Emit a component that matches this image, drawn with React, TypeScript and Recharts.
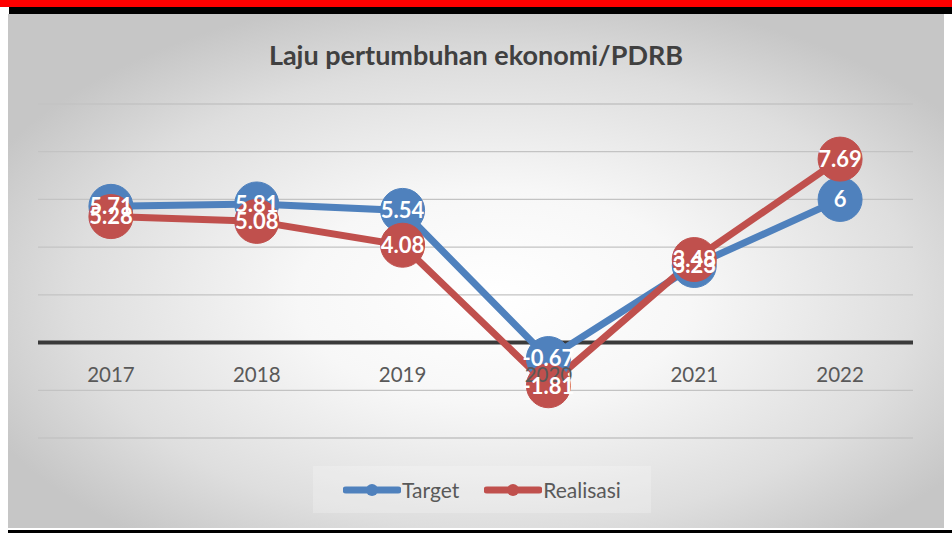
import React from 'react';
import {
  LineChart,
  Line,
  XAxis,
  YAxis,
  CartesianGrid,
  ReferenceLine,
  LabelList,
} from 'recharts';

const years = ['2017', '2018', '2019', '2020', '2021', '2022'];
const target = [5.71, 5.81, 5.54, -0.67, 3.23, 6];
const realisasi = [5.28, 5.08, 4.08, -1.81, 3.48, 7.69];
const yTicks = [-4, -2, 0, 2, 4, 6, 8, 10];

const data = years.map((year, i) => ({ year, target: target[i], realisasi: realisasi[i] }));

const BLUE = '#4f81bd';
const RED = '#c0504d';
const FONT = 'Lato, "Open Sans", sans-serif';

const W = 952;
const H = 533;
const M = { top: 104, right: 39, bottom: 94, left: 38 };
const plotH = 334;
const zeroY = M.top + (10 / 14) * plotH;

const YearTick = (props: any) => {
  const { x, payload } = props;
  return (
    <text x={x} y={zeroY + 39} textAnchor="middle" fill="#595959" fontSize={20.5} fontFamily={FONT}>
      {payload.value}
    </text>
  );
};

const LegendBox = () => {
  const items = [
    { name: 'Target', color: BLUE },
    { name: 'Realisasi', color: RED },
  ];
  return (
    <div
      style={{
        position: 'absolute',
        left: 313,
        top: 466,
        width: 338,
        height: 47,
        background: 'rgba(255,255,255,0.22)',
        display: 'flex',
        justifyContent: 'center',
        alignItems: 'center',
        gap: 25,
        fontFamily: FONT,
        fontSize: 21,
        color: '#595959',
      }}
    >
      {items.map((it) => (
        <div key={it.name} style={{ display: 'flex', alignItems: 'center' }}>
          <svg width={58} height={16}>
            <line x1={3} y1={8} x2={55} y2={8} stroke={it.color} strokeWidth={7} strokeLinecap="round" />
            <circle cx={29} cy={8} r={6} fill={it.color} />
          </svg>
          <span style={{ marginLeft: 1 }}>{it.name}</span>
        </div>
      ))}
    </div>
  );
};

export default function App() {
  return (
    <div style={{ position: 'absolute', left: 0, top: 0, width: W, height: H, background: '#fff', overflow: 'hidden' }}>
      <div style={{ position: 'absolute', left: 0, top: 0, width: W, height: 7, background: '#ff0000' }} />
      <div style={{ position: 'absolute', left: 9, top: 7, width: W - 9, height: 7, background: '#000' }} />
      <div
        style={{
          position: 'absolute',
          left: 8,
          top: 14,
          width: 936,
          height: 514,
          background: 'radial-gradient(ellipse 60% 60% at 52% 55%, #ffffff 0%, #f7f7f7 35%, #dedede 75%, #c6c6c6 100%)',
        }}
      />
      <div style={{ position: 'absolute', left: 8, top: 530, width: W - 8, height: 3, background: '#000' }} />
      <LegendBox />
      <div
        style={{
          position: 'absolute',
          left: 0,
          top: 38,
          width: W,
          textAlign: 'center',
          fontFamily: FONT,
          fontWeight: 'bold',
          fontSize: 27,
          color: '#404040',
        }}
      >
        Laju pertumbuhan ekonomi/PDRB
      </div>
      <div style={{ position: 'absolute', left: 0, top: 0 }}>
        <LineChart width={W} height={H} data={data} margin={M}>
          <CartesianGrid vertical={false} stroke="#c3c3c3" strokeWidth={1.3} />
          <XAxis dataKey="year" scale="band" height={1} axisLine={false} tickLine={false} tick={<YearTick />} interval={0} />
          <YAxis hide domain={[-4, 10]} ticks={yTicks} type="number" />
          <ReferenceLine y={0} stroke="#3a3a3a" strokeWidth={4} />
          <Line
            dataKey="target"
            name="Target"
            stroke={BLUE}
            strokeWidth={7}
            dot={{ r: 22, fill: BLUE, stroke: BLUE, strokeWidth: 1 }}
            activeDot={false}
            isAnimationActive={false}
          />
          <Line
            dataKey="realisasi"
            name="Realisasi"
            stroke={RED}
            strokeWidth={7}
            dot={{ r: 22, fill: RED, stroke: RED, strokeWidth: 1 }}
            activeDot={false}
            isAnimationActive={false}
          />
          <Line dataKey="target" stroke="none" dot={false} activeDot={false} legendType="none" isAnimationActive={false}>
            <LabelList dataKey="target" position="center" fill="#fff" fontSize={22} fontWeight="bold" fontFamily={FONT} />
          </Line>
          <Line dataKey="realisasi" stroke="none" dot={false} activeDot={false} legendType="none" isAnimationActive={false}>
            <LabelList dataKey="realisasi" position="center" fill="#fff" fontSize={22} fontWeight="bold" fontFamily={FONT} />
          </Line>
        </LineChart>
      </div>
    </div>
  );
}
